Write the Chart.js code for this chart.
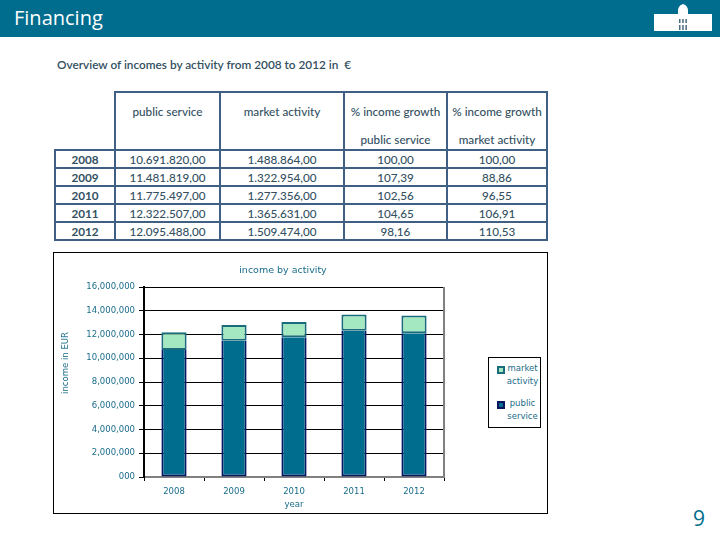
<!DOCTYPE html>
<html>
<head>
<meta charset="utf-8">
<script src="https://cdn.jsdelivr.net/npm/chart.js@4"></script>
<style>
  html, body { margin: 0; padding: 0; background: #fff; }
  body { width: 720px; height: 540px; position: relative; overflow: hidden; font-family: Lato, sans-serif; }
  .abs { position: absolute; }
  #band { left: 0; top: 0; width: 720px; height: 37px; background: #006c8e; }
  #head { left: 14px; top: 4px; color: #fff; font: 20px "Open Sans", sans-serif; }
  #logo { left: 654px; top: 3px; }
  #overview { left: 57px; top: 57px; font: 600 11.8px Lato, sans-serif; color: #33505f; white-space: pre; }
  #tbl { left: 54px; top: 91px; border-collapse: collapse; table-layout: fixed; font: 500 11.7px Lato, sans-serif; color: #33505f; }
  #tbl td { border: 2px solid #3f6084; padding: 0 0 1px; text-align: center; height: 15px; }
  #tbl td.blank { border-top: 0; border-left: 0; }
  #tbl td.yr { font-weight: 700; }
  #tbl tr.hd td { height: 56px; padding: 0; line-height: 28px; vertical-align: top; }
  #tbl tr.hd div { position: relative; top: 4px; height: 50px; }
  #box { left: 53px; top: 252px; width: 493px; height: 260px; border: 1px solid #000; }
  #chartTitle { left: 183px; width: 200px; top: 264px; text-align: center; color: #1a6c8a; font: 9.5px "DejaVu Sans", sans-serif; }
  #yTitle { left: 5px; top: 358px; width: 120px; text-align: center; color: #1a6c8a; font: 8.5px "DejaVu Sans", sans-serif; transform: rotate(-90deg); }
  #legend { left: 488px; top: 357px; width: 51px; height: 69px; border: 1px solid #000; color: #1a6c8a; font: 8.5px/12.5px "DejaVu Sans", sans-serif; background: #fff; }
  .sw { position: absolute; left: 8px; width: 4px; height: 4px; border-width: 2px; border-style: solid; }
  .lab { position: absolute; left: 17px; width: 33px; text-align: center; }
  #page { left: 693px; top: 504px; color: #006c8e; font: 21px "Open Sans", sans-serif; }
</style>
</head>
<body>
<div class="abs" id="band"></div>
<div class="abs" id="head">Financing</div>
<svg class="abs" id="logo" width="60" height="30">
  <rect x="0" y="11" width="58" height="17" fill="#fff"/>
  <path d="M24 28V8c0-4 2-6 5-7 3 1 5 3 5 7v20z" fill="#fff"/>
  <path d="M25 16h1.500v4h-1.500zM28.200 16h1.500v4h-1.500zM31.400 16h1.500v4h-1.500zM25 22h1.500v5h-1.500zM28.200 22h1.500v5h-1.500zM31.400 22h1.500v5h-1.500z" fill="#4a6a80"/>
</svg>
<div class="abs" id="overview">Overview of incomes by activity from 2008 to 2012 in  €</div>
<table class="abs" id="tbl"><colgroup id="cols"></colgroup><tbody id="rows"></tbody></table>

<div class="abs" id="box"></div>
<div class="abs" style="left:53px;top:252px;width:495px;height:262px"><canvas id="incomeChart" width="495" height="262"></canvas></div>
<div class="abs" id="chartTitle">income by activity</div>
<div class="abs" id="yTitle">income in EUR</div>
<div class="abs" id="legend">
  <span class="sw" style="top:8px;background:#a3e8c0;border-color:#1a6c7c"></span>
  <span class="lab" style="top:4px">market<br>activity</span>
  <span class="sw" style="top:43px;background:#006c8e;border-color:#0a1560"></span>
  <span class="lab" style="top:39px">public<br>service</span>
</div>
<div class="abs" id="page">9</div>

<script>
const years = ['2008', '2009', '2010', '2011', '2012'];
const publicService = [10691820, 11481819, 11775497, 12322507, 12095488];
const marketActivity = [1488864, 1322954, 1277356, 1365631, 1509474];
const publicText = ['10.691.820,00', '11.481.819,00', '11.775.497,00', '12.322.507,00', '12.095.488,00'];
const marketText = ['1.488.864,00', '1.322.954,00', '1.277.356,00', '1.365.631,00', '1.509.474,00'];
const publicGrowth = ['100,00', '107,39', '102,56', '104,65', '98,16'];
const marketGrowth = ['100,00', '88,86', '96,55', '106,91', '110,53'];
const yTickLabels = ['000', '2,000,000', '4,000,000', '6,000,000', '8,000,000', '10,000,000', '12,000,000', '14,000,000', '16,000,000'];

// table above the chart
const colWidths = [60, 105, 124, 103, 100];
document.getElementById('cols').innerHTML = colWidths.map(w => '<col style="width:' + w + 'px">').join('');
let rowsHtml = '<tr class="hd"><td class="blank"></td><td><div>public service</div></td>' +
  '<td><div>market activity</div></td><td><div>% income growth<br>public service</div></td><td><div>% income growth<br>market activity</div></td></tr>';
years.forEach((y, i) => {
  rowsHtml += '<tr><td class="yr">' + y + '</td><td>' + publicText[i] + '</td><td>' + marketText[i] + '</td><td>' +
    publicGrowth[i] + '</td><td>' + marketGrowth[i] + '</td></tr>';
});
document.getElementById('rows').innerHTML = rowsHtml;

const axisText = '#1a6c8a';
const plotEdge = {
  id: 'plotEdge',
  afterDatasetsDraw(chart) {
    const { ctx, chartArea } = chart;
    ctx.save();
    ctx.strokeStyle = '#808080';
    ctx.lineWidth = 2;
    ctx.beginPath();
    ctx.moveTo(chartArea.right, chartArea.top);
    ctx.lineTo(chartArea.right, chartArea.bottom);
    ctx.stroke();
    ctx.restore();
  }
};

new Chart(document.getElementById('incomeChart'), {
  type: 'bar',
  data: {
    labels: years,
    datasets: [{
      label: 'public service',
      data: publicService,
      backgroundColor: '#006c8e',
      borderColor: '#0a1560',
      borderWidth: 2,
      borderSkipped: 'top',
      categoryPercentage: 1,
      barPercentage: 0.42
    }, {
      label: 'market activity',
      data: marketActivity,
      backgroundColor: '#a3e8c0',
      borderColor: '#1a6c7c',
      borderWidth: 2,
      borderSkipped: false,
      categoryPercentage: 1,
      barPercentage: 0.42
    }]
  },
  plugins: [plotEdge],
  options: {
    responsive: false,
    animation: false,
    layout: { padding: { top: 35, right: 104, bottom: 0, left: 0 } },
    plugins: {
      legend: { display: false },
      tooltip: { enabled: false }
    },
    scales: {
      x: {
        stacked: true,
        afterFit: s => { s.height = 37; },
        border: { color: '#808080', width: 2 },
        grid: { offset: true, drawOnChartArea: false, color: '#000', tickLength: 4 },
        ticks: { color: axisText, padding: 6, maxRotation: 0, font: { family: 'DejaVu Sans', size: 8.5 } },
        title: { display: true, text: 'year', color: axisText, padding: { top: 0, bottom: 4 }, font: { family: 'DejaVu Sans', size: 8.5 } }
      },
      y: {
        stacked: true,
        min: 0,
        max: 16000000,
        afterFit: s => { s.width = 91; },
        border: { color: '#000', width: 2 },
        grid: { color: '#000', lineWidth: 1, tickLength: 5 },
        ticks: {
          stepSize: 2000000,
          color: axisText,
          padding: 4,
          font: { family: 'DejaVu Sans', size: 8.5 },
          callback: (v, i) => yTickLabels[i]
        }
      }
    }
  }
});
</script>
</body>
</html>
